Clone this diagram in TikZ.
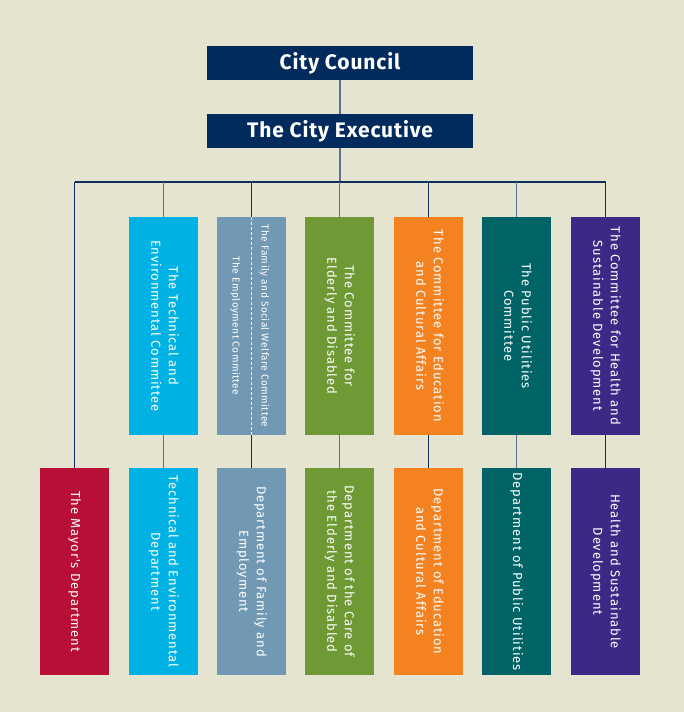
\documentclass[tikz,border=0pt]{standalone}
\usepackage{fontspec}
\setmainfont{Fira Sans}
\newfontfamily\boxfont[LetterSpace=7]{Fira Sans}
\newfontfamily\smallfont[LetterSpace=5]{Fira Sans}
\newfontfamily\headfont[LetterSpace=4]{Fira Sans}
\usepackage{graphicx}
\definecolor{bg}{HTML}{E5E4D1}
\definecolor{navy}{HTML}{002B5C}
\definecolor{cyanb}{HTML}{00B2E3}
\definecolor{slateb}{HTML}{7199B3}
\definecolor{greenb}{HTML}{6E9935}
\definecolor{orangeb}{HTML}{F58220}
\definecolor{tealb}{HTML}{006366}
\definecolor{purpleb}{HTML}{3D2985}
\definecolor{crimsonb}{HTML}{B80F36}
\definecolor{linenavy}{HTML}{0E2F5C}
\definecolor{lineslate}{HTML}{5B7390}
\newcommand{\vtext}[1]{\rotatebox{-90}{\begin{tabular}{@{}c@{}}#1\end{tabular}}}
\tikzset{
  head/.style={fill=navy, text=white, minimum width=266pt, minimum height=34pt, inner sep=0pt,
    font=\headfont\fontsize{21}{24}\selectfont\bfseries},
  colbox/.style={text=white, minimum width=69pt, minimum height=218pt, inner sep=0pt,
    font=\boxfont\fontsize{13}{17.5}\selectfont},
  depbox/.style={text=white, minimum width=69pt, minimum height=207pt, inner sep=0pt,
    font=\boxfont\fontsize{13}{17.5}\selectfont},
  smalltxt/.style={text=white, inner sep=0pt, font=\smallfont\fontsize{10}{11}\selectfont},
  ln/.style={line width=1.2pt, linenavy},
  lns/.style={line width=1.2pt, lineslate},
}
\begin{document}
\begin{tikzpicture}[x=1pt, y=-1pt]
\useasboundingbox (0,0) rectangle (684,712);
\fill[bg] (0,0) rectangle (684,712);

\node[head] (council) at (340,63) {City Council};
\node[head] (exec) at (340,131) {The City Executive};

\coordinate (bus) at (340,182);
\coordinate (busL) at (74.5,182);
\coordinate (busR) at (605.5,182);

% committees
\node[colbox, fill=cyanb] (c1) at (163.5,326) {\vtext{The Technical and\\Environmental Committee}};
\node[colbox, fill=slateb] (c2) at (251.5,326) {};
\node[colbox, fill=greenb] (c3) at (339.5,326) {\vtext{The Committee for\\Elderly and Disabled}};
\node[colbox, fill=orangeb] (c4) at (428.5,326) {\vtext{The Committee for Education\\and Cultural Affairs}};
\node[colbox, fill=tealb] (c5) at (516.5,326) {\vtext{The Public Utilities\\Committee}};
\node[colbox, fill=purpleb] (c6) at (605.5,326) {\vtext{The Committee for Health and\\Sustainable Development}};

\draw[white, line width=0.8pt, dash pattern=on 3pt off 2pt] (c2.north) -- (c2.south);
\node[smalltxt] (fam1) at (264.5,326) {\rotatebox{-90}{The Family and Social Welfare Committee}};
\node[smalltxt] (fam2) at (235.5,326) {\rotatebox{-90}{The Employment Committee}};

% departments
\node[depbox, fill=crimsonb] (d0) at (74.5,571.5) {\vtext{The Mayor's Department}};
\node[depbox, fill=cyanb] (d1) at (163.5,571.5) {\vtext{Technical and Environmental\\Department}};
\node[depbox, fill=slateb] (d2) at (251.5,571.5) {\vtext{Department of Family and\\Employment}};
\node[depbox, fill=greenb] (d3) at (339.5,571.5) {\vtext{Department of the Care of\\the Elderly and Disabled}};
\node[depbox, fill=orangeb] (d4) at (428.5,571.5) {\vtext{Department of Education\\and Cultural Affairs}};
\node[depbox, fill=tealb] (d5) at (516.5,571.5) {\vtext{Department of Public Utilities}};
\node[depbox, fill=purpleb] (d6) at (605.5,571.5) {\vtext{Health and Sustainable\\Development}};

% connectors
\draw[lns] (council.south) -- (exec.north);
\draw[lns] (exec.south) -- (bus);
\draw[ln] (busL) -- (busR);
\draw[ln] (busL) -- (d0.north);
\draw[lns] (c1.north |- bus) -- (c1.north);
\draw[ln] (c2.north |- bus) -- (c2.north);
\draw[lns] (c3.north |- bus) -- (c3.north);
\draw[ln] (c4.north |- bus) -- (c4.north);
\draw[lns] (c5.north |- bus) -- (c5.north);
\draw[ln] (busR) -- (c6.north);
\draw[lns] (c1.south) -- (d1.north);
\draw[ln] (c2.south) -- (d2.north);
\draw[lns] (c3.south) -- (d3.north);
\draw[ln] (c4.south) -- (d4.north);
\draw[lns] (c5.south) -- (d5.north);
\draw[ln] (c6.south) -- (d6.north);
\end{tikzpicture}
\end{document}
